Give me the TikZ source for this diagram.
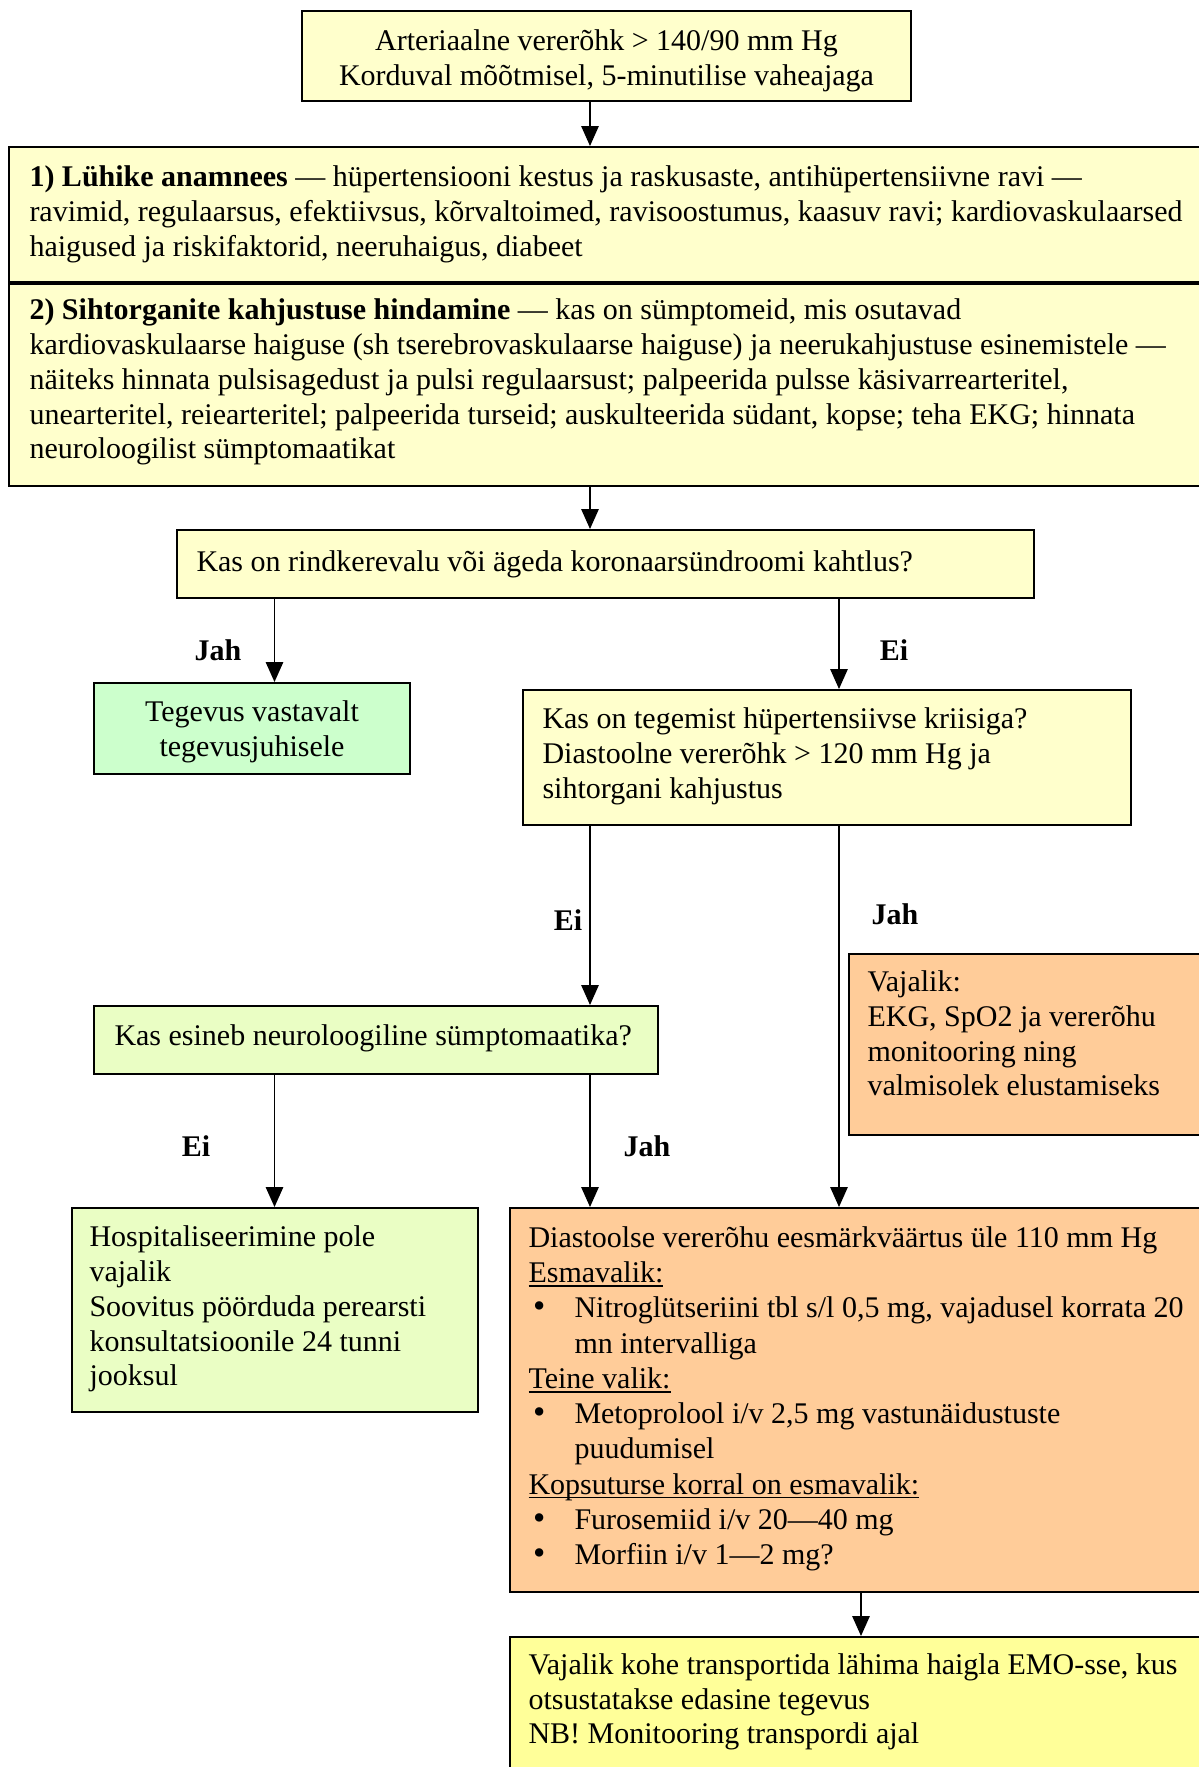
\documentclass[tikz,border=0pt]{standalone}
\usepackage{fontspec}
\setmainfont{Liberation Serif}
\usetikzlibrary{arrows.meta,fit}
\definecolor{cream}{HTML}{FFFFCC}
\definecolor{mint}{HTML}{CCFFCC}
\definecolor{lime}{HTML}{EAFEC4}
\definecolor{peach}{HTML}{FFCC99}
\definecolor{lemon}{HTML}{FFFF99}
\newcommand\bulitem{\hspace*{1.8pt}\makebox[16.6pt][l]{\fontsize{14}{14}\selectfont\textbullet}}
\newcommand\bulcont{\hspace*{18.4pt}}
\newcommand\lineunder[1]{\setbox0\hbox{#1}\rlap{\rule[-1.75pt]{\wd0}{0.7pt}}\box0}
\begin{document}
\begin{tikzpicture}[x=0.4pt,y=-0.4pt,
  box/.style={draw=black, line width=0.8pt, inner sep=0pt},
  txt/.style={inner sep=0pt, align=left, font=\fontsize{12}{13.9}\selectfont},
  lbl/.style={inner sep=0pt, font=\fontsize{12}{13.9}\selectfont\bfseries},
  arr/.style={line width=0.55pt, -{Triangle[length=8pt,width=7pt]}}]
\useasboundingbox (0,0) rectangle (1199,1767);

% boxes
\node[box, fill=cream, fit={(302,11)(911,101)}] (top) {};
\node[box, fill=cream, fit={(9,147)(1230,282)}] (anam) {};
\node[box, fill=cream, fit={(9,284)(1230,486)}] (organ) {};
\node[box, fill=cream, fit={(177,530)(1034,598)}] (chest) {};
\node[box, fill=mint, fit={(94,683)(410,774)}] (guide) {};
\node[box, fill=cream, fit={(523,690)(1131,825)}] (crisis) {};
\node[box, fill=peach, fit={(849,954)(1230,1135)}] (monit) {};
\node[box, fill=lime, fit={(94,1006)(658,1074)}] (neuro) {};
\node[box, fill=lime, fit={(72,1208)(478,1412)}] (home) {};
\node[box, fill=peach, fit={(510,1208)(1230,1592)}] (treat) {};
\node[box, fill=lemon, fit={(510,1637)(1230,1800)}] (transp) {};

% texts
\node[txt, align=center] (top-t) at ([yshift=-1.8pt]top.center)
  {Arteriaalne vererõhk > 140/90 mm Hg\\Korduval mõõtmisel, 5-minutilise vaheajaga};
\node[txt, anchor=west] (anam-t) at ([xshift=8.4pt]anam.west)
  {\textbf{1) Lühike anamnees} — hüpertensiooni kestus ja raskusaste, antihüpertensiivne ravi —\\
   ravimid, regulaarsus, efektiivsus, kõrvaltoimed, ravisoostumus, kaasuv ravi; kardiovaskulaarsed\\
   haigused ja riskifaktorid, neeruhaigus, diabeet};
\node[txt, anchor=west] (organ-t) at ([xshift=8.4pt,yshift=1.1pt]organ.west)
  {\textbf{2) Sihtorganite kahjustuse hindamine} — kas on sümptomeid, mis osutavad\\
   kardiovaskulaarse haiguse (sh tserebrovaskulaarse haiguse) ja neerukahjustuse esinemistele —\\
   näiteks hinnata pulsisagedust ja pulsi regulaarsust; palpeerida pulsse käsivarrearteritel,\\
   unearteritel, reiearteritel; palpeerida turseid; auskulteerida südant, kopse; teha EKG; hinnata\\
   neuroloogilist sümptomaatikat};
\node[txt, anchor=west] (chest-t) at ([xshift=8pt]chest.west)
  {Kas on rindkerevalu või ägeda koronaarsündroomi kahtlus?};
\node[txt, align=center] (guide-t) at ([yshift=-1.35pt]guide.center)
  {Tegevus vastavalt\\tegevusjuhisele};
\node[txt, anchor=west] (crisis-t) at ([xshift=8pt,yshift=0.4pt]crisis.west)
  {Kas on tegemist hüpertensiivse kriisiga?\\
   Diastoolne vererõhk > 120 mm Hg ja\\
   sihtorgani kahjustus};
\node[txt, anchor=west] (monit-t) at ([xshift=7.6pt,yshift=4.4pt]monit.west)
  {Vajalik:\\EKG, SpO2 ja vererõhu\\monitooring ning\\valmisolek elustamiseks};
\node[txt, anchor=west] (neuro-t) at ([xshift=8.4pt,yshift=0.8pt]neuro.west)
  {Kas esineb neuroloogiline sümptomaatika?};
\node[txt, anchor=west] (home-t) at ([xshift=7.2pt,yshift=0.3pt]home.west)
  {Hospitaliseerimine pole\\vajalik\\Soovitus pöörduda perearsti\\konsultatsioonile 24 tunni\\jooksul};
\node[txt, anchor=west, font=\fontsize{12}{14.1}\selectfont] (treat-t) at ([xshift=7.6pt,yshift=0.5pt]treat.west)
  {Diastoolse vererõhu eesmärkväärtus üle 110 mm Hg\\
   \lineunder{Esmavalik:}\\
   \bulitem Nitroglütseriini tbl s/l 0,5 mg, vajadusel korrata 20\\
   \bulcont mn intervalliga\\
   \lineunder{Teine valik:}\\
   \bulitem Metoprolool i/v 2,5 mg vastunäidustuste\\
   \bulcont puudumisel\\
   \lineunder{Kopsuturse korral on esmavalik:}\\
   \bulitem Furosemiid i/v 20—40 mg\\
   \bulitem Morfiin i/v 1—2 mg?};
\node[txt, anchor=north west] (transp-t) at ([xshift=7.6pt,yshift=-6.8pt]transp.north west)
  {Vajalik kohe transportida lähima haigla EMO-sse, kus\\
   otsustatakse edasine tegevus\\
   NB! Monitooring transpordi ajal};

% connector columns
\coordinate (xa) at (274.5,0);
\coordinate (xb) at (590,0);
\coordinate (xc) at (839,0);
\coordinate (xd) at (861,0);

% connectors
\draw[arr] (xb |- top.south) -- (xb |- anam.north);
\draw[arr] (xb |- organ.south) -- (xb |- chest.north);
\draw[arr] (xa |- chest.south) -- (xa |- guide.north);
\draw[arr] (xc |- chest.south) -- (xc |- crisis.north);
\draw[arr] (xb |- crisis.south) -- (xb |- neuro.north);
\draw[arr] (xc |- crisis.south) -- (xc |- treat.north);
\draw[arr] (xa |- neuro.south) -- (xa |- home.north);
\draw[arr] (xb |- neuro.south) -- (xb |- treat.north);
\draw[arr] (xd |- treat.south) -- (xd |- transp.north);

% branch labels
\node[lbl] (l-yes1) at (218,650) {Jah};
\node[lbl] (l-no1) at (894,650) {Ei};
\node[lbl] (l-no2) at (568,920) {Ei};
\node[lbl] (l-yes2) at (895,914) {Jah};
\node[lbl] (l-no3) at (196,1146) {Ei};
\node[lbl] (l-yes3) at (647,1146) {Jah};
\end{tikzpicture}
\end{document}
